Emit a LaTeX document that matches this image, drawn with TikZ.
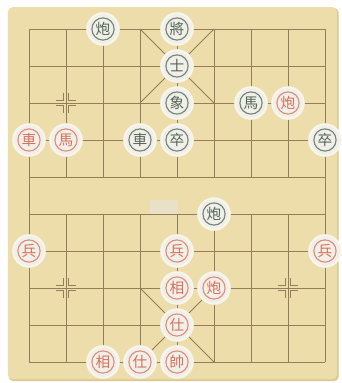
\documentclass[tikz,border=0pt]{standalone}
\usepackage{fontspec}
\newfontfamily\cjk{Noto Sans CJK TC}
\usetikzlibrary{positioning}
\definecolor{wood}{HTML}{ECDDAA}
\definecolor{woodedge}{HTML}{DCC890}
\definecolor{gridline}{HTML}{927E58}
\definecolor{disc}{HTML}{F0EFE8}
\definecolor{glow}{HTML}{F8F5EC}
\definecolor{redside}{HTML}{D8705C}
\definecolor{blackside}{HTML}{53655A}
\tikzset{
  piece/.style={circle, minimum size=0.68cm, inner sep=0pt, fill=disc,
    draw=glow, line width=1.3pt, font=\cjk\fontsize{9}{9}\selectfont},
  redpiece/.style={piece, text=redside,
    path picture={\draw[redside!80, line width=0.7pt]
      (path picture bounding box.center) circle (0.24cm);}},
  blackpiece/.style={piece, text=blackside,
    path picture={\draw[blackside!80, line width=0.7pt]
      (path picture bounding box.center) circle (0.24cm);}},
  gridpen/.style={gridline, line width=0.6pt}
}
\begin{document}
\begin{tikzpicture}[x=0.8cm, y=-0.8cm]
    \useasboundingbox (-0.784,-0.784) rectangle (8.459,9.568);
    % board
    \fill[woodedge, rounded corners=3pt] (-0.55,-0.57) rectangle (8.37,9.52);
    \fill[wood, rounded corners=3pt] (-0.57,-0.59) rectangle (8.33,9.47);
    \fill[gray!20, opacity=0.5] (3.27,4.62) rectangle (4.03,5.03);
    % grid
    \foreach \y in {0,...,9}{
      \draw[gridpen] (0,\y) -- (8,\y);
    }
    \draw[gridpen] (0,0) -- (0,9);
    \draw[gridpen] (8,0) -- (8,9);
    \foreach \x in {1,...,7}{
      \draw[gridpen] (\x,0) -- (\x,4);
      \draw[gridpen] (\x,5) -- (\x,9);
    }
    % palaces
    \draw[gridpen] (3,0) -- (5,2) (5,0) -- (3,2);
    \draw[gridpen] (3,7) -- (5,9) (5,7) -- (3,9);
    % position marks
    \foreach \px/\py in {1/2,1/7,7/7}{
      \foreach \sx/\sy in {1/1,1/-1,-1/1,-1/-1}{
        \draw[gridpen] ({\px+0.08*\sx},{\py+0.26*\sy}) -- ({\px+0.08*\sx},{\py+0.08*\sy})
          -- ({\px+0.26*\sx},{\py+0.08*\sy});
      }
    }
    % black pieces
    \node[blackpiece] (bpao1) at (2,0) {炮};
    \node[blackpiece] (bjiang) at (4,0) {將};
    \node[blackpiece] (bshi) at (4,1) {士};
    \node[blackpiece] (bxiang) at (4,2) {象};
    \node[blackpiece] (bma) at (6,2) {馬};
    \node[blackpiece] (bju) at (3,3) {車};
    \node[blackpiece] (bzu1) at (4,3) {卒};
    \node[blackpiece] (bzu2) at (8,3) {卒};
    \node[blackpiece] (bpao2) at (5,5) {炮};
    % red pieces
    \node[redpiece] (rpao1) at (7,2) {炮};
    \node[redpiece] (rju) at (0,3) {車};
    \node[redpiece] (rma) at (1,3) {馬};
    \node[redpiece] (rbing1) at (0,6) {兵};
    \node[redpiece] (rbing2) at (4,6) {兵};
    \node[redpiece] (rbing3) at (8,6) {兵};
    \node[redpiece] (rxiang1) at (4,7) {相};
    \node[redpiece] (rpao2) at (5,7) {炮};
    \node[redpiece] (rshi1) at (4,8) {仕};
    \node[redpiece] (rxiang2) at (2,9) {相};
    \node[redpiece] (rshi2) at (3,9) {仕};
    \node[redpiece] (rshuai) at (4,9) {帥};
  \end{tikzpicture}
\end{document}
